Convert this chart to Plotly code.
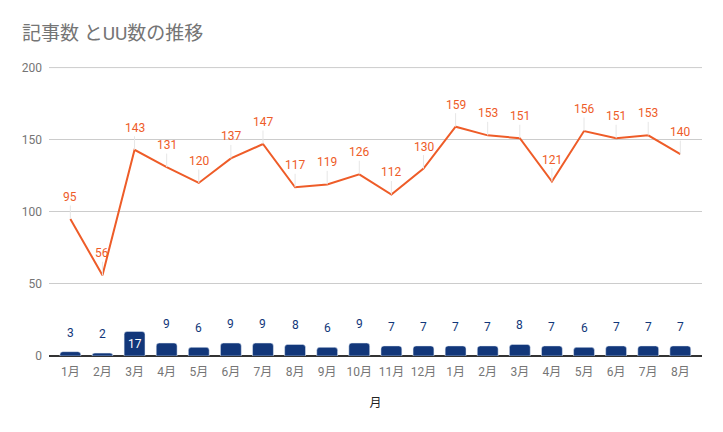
import plotly.graph_objects as go

months = ["1月","2月","3月","4月","5月","6月","7月","8月","9月","10月","11月","12月",
          "1月","2月","3月","4月","5月","6月","7月","8月"]
cats = list(range(len(months)))
articles = [3,2,17,9,6,9,9,8,6,9,7,7,7,7,8,7,6,7,7,7]
uu = [95,56,143,131,120,137,147,117,119,126,112,130,159,153,151,121,156,151,153,140]
y_ticks = [0, 50, 100, 150, 200]

BAR = "#12377a"
LINE = "#ee5c28"
FONT = "Roboto, Noto Sans CJK JP, sans-serif"

fig = go.Figure()
fig.add_trace(go.Bar(x=cats, y=articles, marker=dict(color=BAR, cornerradius=3),
                     width=0.65, name="記事数", hoverinfo="skip"))
fig.add_trace(go.Scatter(x=cats, y=uu, mode="lines", line=dict(color=LINE, width=2),
                         name="UU数", hoverinfo="skip"))

ann = []
for c, v in zip(cats, articles):
    if v >= 15:
        ann.append(dict(x=c, y=v, text=str(v), showarrow=False, yshift=-13,
                        font=dict(color="white", size=12, family=FONT)))
    else:
        ann.append(dict(x=c, y=v, text=str(v), showarrow=False, yshift=19,
                        font=dict(color=BAR, size=12, family=FONT)))
for c, v in zip(cats, uu):
    ann.append(dict(x=c, y=v, text=str(v), showarrow=True, ax=0, ay=-22,
                    arrowhead=0, arrowwidth=1, arrowcolor="#e6e6e6",
                    font=dict(color=LINE, size=12, family=FONT)))

# top gridline (plotly omits gridline at the plot edge)
shapes = [dict(type="line", xref="paper", x0=0, x1=1, yref="y",
               y0=y_ticks[-1], y1=y_ticks[-1], layer="below",
               line=dict(color="#cccccc", width=1))]

fig.update_layout(
    width=723, height=432,
    margin=dict(l=49, r=21, t=67, b=76, autoexpand=False),
    paper_bgcolor="white", plot_bgcolor="white",
    showlegend=False,
    bargap=0.35,
    font=dict(family=FONT, color="#757575", size=12),
    title=dict(text="記事数 とUU数の推移", x=22/723, xref="container", xanchor="left",
               y=1 - 33/432, yref="container", yanchor="middle",
               font=dict(size=19, color="#757575", family=FONT)),
    annotations=ann,
    shapes=shapes,
)

fig.update_xaxes(tickmode="array", tickvals=cats, ticktext=months,
                 range=[-0.665, 19.675], showgrid=False, zeroline=False,
                 showline=False, ticks="", ticklabelstandoff=7,
                 tickfont=dict(size=12, color="#757575"), automargin=False,
                 title=dict(text="月", font=dict(size=12, color="#222222"), standoff=20))
fig.update_yaxes(range=[0, 200.4], tickvals=y_ticks,
                 showgrid=True, gridcolor="#cccccc", gridwidth=1,
                 zeroline=True, zerolinecolor="#333333", zerolinewidth=1.5,
                 showline=False, ticks="", ticklabelstandoff=6, automargin=False,
                 tickfont=dict(size=12, color="#757575"))

fig.write_html("out.html", config={"displayModeBar": False},
               post_script="document.body.style.margin='0';")
